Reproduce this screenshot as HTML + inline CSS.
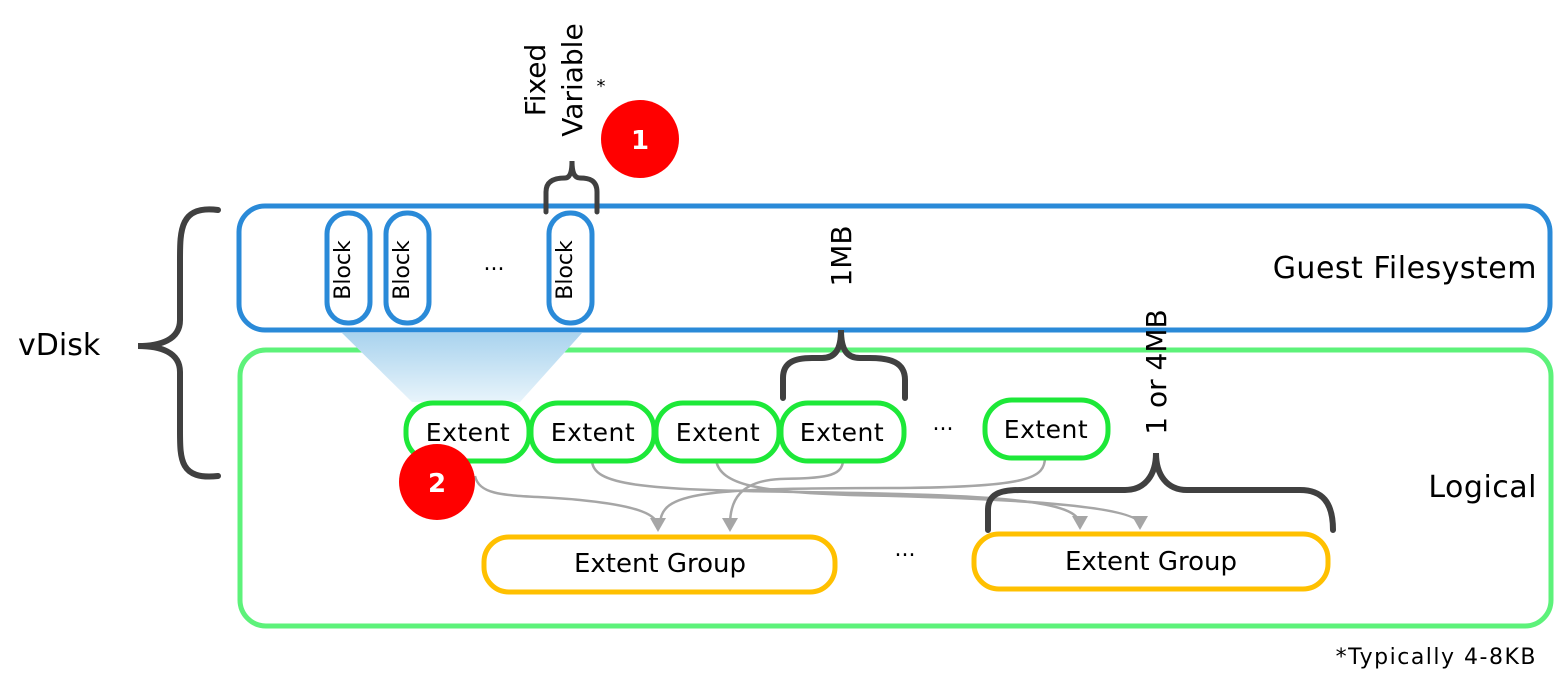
<!DOCTYPE html>
<html><head><meta charset="utf-8"><style>
html,body{margin:0;padding:0;background:#fff;}
svg{display:block;font-family:"DejaVu Sans","Liberation Sans",sans-serif;}
</style></head><body>
<svg width="1559" height="682" viewBox="0 0 1559 682">
<defs>
<linearGradient id="tri" x1="0" y1="0" x2="0" y2="1">
<stop offset="0" stop-color="#a9d3ee"/><stop offset="1" stop-color="#e8f4fb"/>
</linearGradient>
</defs>

<path d="M218,210 C180,205 180,230 180,260 L180,320 C180,340 160,346 138,346 C160,346 180,352 180,372 L180,430 C180,460 180,480 218,476" fill="none" stroke="#404040" stroke-width="6" stroke-linecap="round"/>
<text x="18" y="355" font-size="30">vDisk</text>

<rect x="240" y="350" width="1311" height="276" rx="26" fill="#fff" stroke="#5df27a" stroke-width="5"/>
<rect x="239" y="206" width="1311" height="124" rx="26" fill="#fff" stroke="#2a8ad8" stroke-width="5"/>

<polygon points="342,333 582,333 520,402 412,402" fill="url(#tri)"/>

<g><rect x="327" y="213" width="43" height="110" rx="21" fill="#fff" stroke="#2a8ad8" stroke-width="5"/><text x="357" y="270" font-size="22" text-anchor="middle" transform="rotate(-90 357 270)" dy="-7">Block</text></g>
<g><rect x="386" y="213" width="43" height="110" rx="21" fill="#fff" stroke="#2a8ad8" stroke-width="5"/><text x="416" y="270" font-size="22" text-anchor="middle" transform="rotate(-90 416 270)" dy="-7">Block</text></g>
<g><rect x="549" y="213" width="43" height="110" rx="21" fill="#fff" stroke="#2a8ad8" stroke-width="5"/><text x="579" y="270" font-size="22" text-anchor="middle" transform="rotate(-90 579 270)" dy="-7">Block</text></g>
<text x="494" y="270" font-size="22" text-anchor="middle">...</text>

<path d="M546,212 L546,192 C546,180 556,178 565,178 C570,178 572,172 572,161 C572,172 574,178 580,178 C589,178 597,180 597,192 L597,212" fill="none" stroke="#404040" stroke-width="5" stroke-linecap="round"/>
<text x="545" y="80" font-size="28" text-anchor="middle" transform="rotate(-90 545 80)">Fixed</text>
<text x="582" y="80" font-size="28" text-anchor="middle" transform="rotate(-90 582 80)">Variable</text>
<text x="601" y="92" font-size="18" text-anchor="middle">*</text>

<g><circle cx="640" cy="139" r="39" fill="#ff0000"/><text x="640" y="149" font-size="26" font-weight="bold" fill="#fff" text-anchor="middle">1</text></g>

<text x="1537" y="278" font-size="30" letter-spacing="0.5" text-anchor="end">Guest Filesystem</text>
<text x="1537" y="497" font-size="30" letter-spacing="0.5" text-anchor="end">Logical</text>

<path d="M783,398 L783,378 C783,362 795,358 812,358 L822,358 C835,358 841,350 841,330 C841,350 847,358 860,358 L870,358 C890,358 905,362 905,380 L905,398" fill="none" stroke="#404040" stroke-width="6" stroke-linecap="round"/>
<text x="851" y="256" font-size="28" text-anchor="middle" transform="rotate(-90 851 256)">1MB</text>

<g fill="none" stroke="#a6a6a6" stroke-width="2.5">
<path d="M475,476 C480,500 520,494 580,500 C640,506 658,515 658,527"/>
<path d="M592,460 C592,485 640,490 800,492 C1000,495 1080,500 1080,525"/>
<path d="M716,460 C720,485 760,492 850,495 C1000,498 1140,505 1140,525"/>
<path d="M843,460 C843,478 820,478 780,479 C740,481 730,500 730,525"/>
<path d="M1045,457 C1045,478 1030,487 900,488 C700,488 660,492 660,525"/>
</g>
<g fill="#a6a6a6">
<polygon points="650,518 666,518 658,532"/>
<polygon points="722,518 738,518 730,532"/>
<polygon points="1072,516 1088,516 1080,530"/>
<polygon points="1132,516 1148,516 1140,530"/>
</g>

<g><rect x="406" y="403" width="123" height="58" rx="27" fill="#fff" stroke="#1de838" stroke-width="5"/><text x="468" y="441" font-size="25" letter-spacing="0.5" text-anchor="middle">Extent</text></g>
<g><rect x="531" y="403" width="123" height="58" rx="27" fill="#fff" stroke="#1de838" stroke-width="5"/><text x="593" y="441" font-size="25" letter-spacing="0.5" text-anchor="middle">Extent</text></g>
<g><rect x="656" y="403" width="123" height="58" rx="27" fill="#fff" stroke="#1de838" stroke-width="5"/><text x="718" y="441" font-size="25" letter-spacing="0.5" text-anchor="middle">Extent</text></g>
<g><rect x="781" y="403" width="123" height="58" rx="27" fill="#fff" stroke="#1de838" stroke-width="5"/><text x="842" y="441" font-size="25" letter-spacing="0.5" text-anchor="middle">Extent</text></g>
<g><rect x="985" y="400" width="123" height="58" rx="27" fill="#fff" stroke="#1de838" stroke-width="5"/><text x="1046" y="438" font-size="25" letter-spacing="0.5" text-anchor="middle">Extent</text></g>
<text x="943" y="430" font-size="22" text-anchor="middle">...</text>

<g><circle cx="437" cy="482" r="38" fill="#ff0000"/><text x="437" y="492" font-size="26" font-weight="bold" fill="#fff" text-anchor="middle">2</text></g>

<path d="M988,530 L988,510 C988,494 1000,490 1020,490 L1125,490 C1145,490 1156,475 1156,453 C1156,475 1167,490 1187,490 L1300,490 C1322,490 1333,502 1333,530" fill="none" stroke="#404040" stroke-width="6" stroke-linecap="round"/>
<text x="1166" y="372" font-size="28" text-anchor="middle" transform="rotate(-90 1166 372)">1 or 4MB</text>

<g><rect x="484" y="537" width="351" height="55" rx="25" fill="#fff" stroke="#ffc000" stroke-width="5"/><text x="660" y="572" font-size="26" text-anchor="middle">Extent Group</text></g>
<g><rect x="974" y="534" width="354" height="55" rx="25" fill="#fff" stroke="#ffc000" stroke-width="5"/><text x="1151" y="570" font-size="26" text-anchor="middle">Extent Group</text></g>
<text x="905" y="556" font-size="22" text-anchor="middle">...</text>

<text x="1537" y="664" font-size="22" letter-spacing="1.5" text-anchor="end">*Typically 4-8KB</text>
</svg>
</body></html>
